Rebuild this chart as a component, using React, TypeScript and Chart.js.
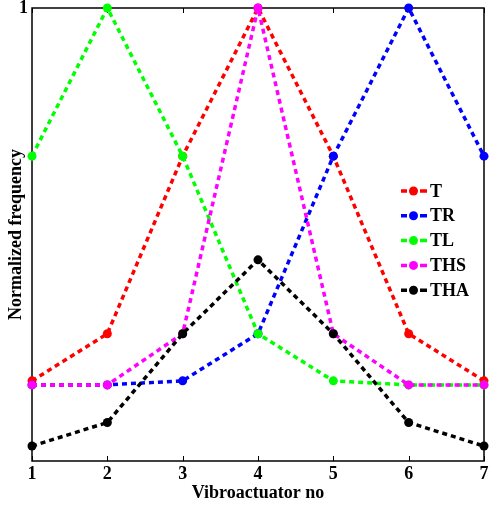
import React, { useEffect, useRef } from "react";
import { Chart, registerables } from "chart.js";

Chart.register(...registerables);

const actuators = [1, 2, 3, 4, 5, 6, 7];
const seriesT = [0.177, 0.281, 0.673, 1, 0.673, 0.281, 0.177];
const seriesTR = [0.168, 0.168, 0.177, 0.281, 0.673, 1, 0.673];
const seriesTL = [0.673, 1, 0.673, 0.281, 0.177, 0.168, 0.168];
const seriesTHS = [0.168, 0.168, 0.281, 1, 0.281, 0.168, 0.168];
const seriesTHA = [0.033, 0.085, 0.281, 0.444, 0.281, 0.085, 0.033];
const seriesLabels = ["T", "TR", "TL", "THS", "THA"];
const seriesColors = ["#ff0000", "#0000ff", "#00ff00", "#ff00ff", "#000000"];
const yTickValues = [1];
const xTitle = "Vibroactuator no";
const yTitle = "Normalized frequency";

const FONT = "'Liberation Serif', 'Times New Roman', serif";

export default function App() {
  const ref = useRef<HTMLCanvasElement | null>(null);

  useEffect(() => {
    if (!ref.current) return;
    const series = [seriesT, seriesTR, seriesTL, seriesTHS, seriesTHA];

    const framePlugin = {
      id: "frame",
      beforeDatasetsDraw(chart: any) {
        const { ctx, chartArea: a, scales } = chart;
        ctx.save();
        ctx.strokeStyle = "#000";
        ctx.lineWidth = 1.5;
        ctx.strokeRect(a.left, a.top, a.right - a.left, a.bottom - a.top);
        ctx.lineWidth = 1;
        const xs = scales.x;
        xs.ticks.forEach((t: any) => {
          const px = Math.round(xs.getPixelForValue(t.value)) + 0.5;
          ctx.beginPath();
          ctx.moveTo(px, a.bottom);
          ctx.lineTo(px, a.bottom - 5);
          ctx.moveTo(px, a.top);
          ctx.lineTo(px, a.top + 5);
          ctx.stroke();
        });
        ctx.restore();
      },
    };

    const legendPlugin = {
      id: "insideLegend",
      afterDraw(chart: any) {
        const { ctx, chartArea: a } = chart;
        const x0 = a.right - 83;
        const y0 = a.top + 183;
        const step = 24.8;
        ctx.save();
        chart.data.datasets.forEach((ds: any, i: number) => {
          const y = y0 + i * step;
          ctx.strokeStyle = ds.borderColor;
          ctx.lineWidth = 3.5;
          ctx.setLineDash([]);
          ctx.beginPath();
          ctx.moveTo(x0, y);
          ctx.lineTo(x0 + 6, y);
          ctx.moveTo(x0 + 19, y);
          ctx.lineTo(x0 + 26, y);
          ctx.stroke();
          ctx.fillStyle = ds.borderColor;
          ctx.beginPath();
          ctx.arc(x0 + 12.5, y, 4.5, 0, Math.PI * 2);
          ctx.fill();
          ctx.fillStyle = "#000";
          ctx.font = `bold 18px ${FONT}`;
          ctx.textBaseline = "middle";
          ctx.textAlign = "left";
          ctx.fillText(ds.label, x0 + 29, y + 1);
        });
        ctx.restore();
      },
    };

    const chart = new Chart(ref.current, {
      type: "line",
      data: {
        labels: actuators,
        datasets: series.map((s, i) => ({
          label: seriesLabels[i],
          data: s.map((v, j) => ({ x: actuators[j], y: v })),
          borderColor: seriesColors[i],
          backgroundColor: seriesColors[i],
          borderWidth: 3.5,
          borderDash: [5, 4],
          pointRadius: 4.5,
          pointHoverRadius: 4.5,
          pointBorderWidth: 0,
          pointBackgroundColor: seriesColors[i],
          tension: 0,
          fill: false,
          clip: false as any,
          order: series.length - i,
        })),
      },
      options: {
        animation: false,
        responsive: false,
        maintainAspectRatio: false,
        layout: { padding: { top: 8, right: 10, left: 0, bottom: 0 } },
        plugins: {
          legend: { display: false },
          tooltip: { enabled: false },
        },
        scales: {
          x: {
            type: "linear",
            min: 1,
            max: 7,
            afterBuildTicks: (scale: any) => {
              scale.ticks = actuators.map((v) => ({ value: v }));
            },
            afterFit: (scale: any) => {
              scale.height = 49;
              scale.paddingLeft = 0;
              scale.paddingRight = 0;
            },
            ticks: {
              color: "#000",
              font: { family: FONT, size: 18, weight: "bold" },
              padding: 3,
              maxRotation: 0,
              callback: (v: any) => String(v),
            },
            grid: { display: false, drawTicks: false },
            border: { display: false },
            title: {
              display: true,
              text: xTitle,
              color: "#000",
              font: { family: FONT, size: 18, weight: "bold" },
              padding: { top: 0, bottom: 6 },
            },
          },
          y: {
            type: "linear",
            min: 0,
            max: 1,
            afterBuildTicks: (scale: any) => {
              scale.ticks = yTickValues.map((v) => ({ value: v }));
            },
            afterFit: (scale: any) => {
              scale.width = 32;
              scale.paddingTop = 0;
              scale.paddingBottom = 0;
            },
            ticks: {
              color: "#000",
              font: { family: FONT, size: 18, weight: "bold" },
              padding: 4,
              callback: (v: any) => String(v),
            },
            grid: { display: false, drawTicks: false },
            border: { display: false },
            title: {
              display: true,
              text: yTitle,
              color: "#000",
              font: { family: FONT, size: 18, weight: "bold" },
              padding: { top: 6, bottom: 0 },
            },
          },
        },
      },
      plugins: [framePlugin, legendPlugin],
    });

    return () => chart.destroy();
  }, []);

  return (
    <div style={{ position: "absolute", left: 0, top: 0, width: 494, height: 510, background: "#fff" }}>
      <canvas ref={ref} width={494} height={510} style={{ display: "block" }} />
    </div>
  );
}
